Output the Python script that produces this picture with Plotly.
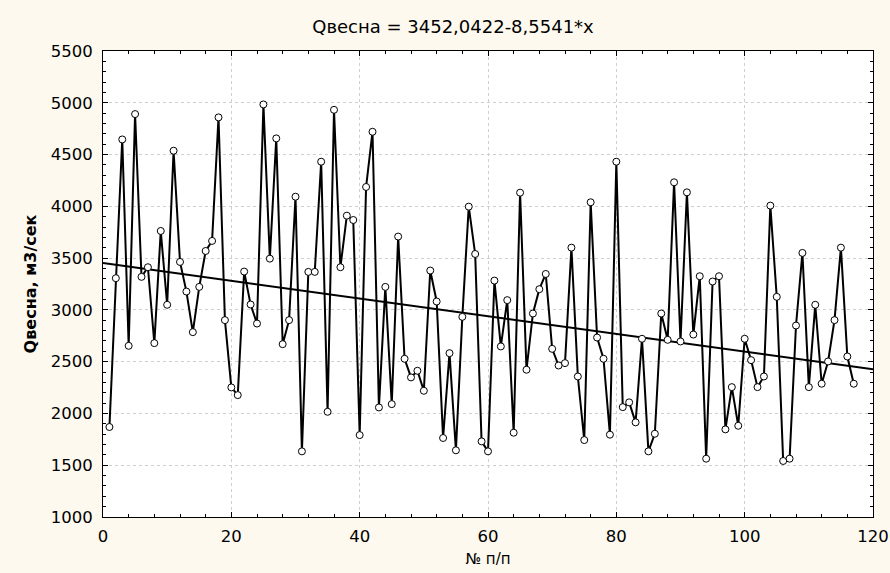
import plotly.graph_objects as go

# Data: spring discharge by sequence number
x_idx = list(range(1, 118))
q_spring = [
    1869, 3306, 4646, 2653, 4891, 3319, 3412, 2679, 3762, 3049,
    4537, 3463, 3177, 2785, 3222, 3569, 3666, 4859, 2901, 2251,
    2177, 3370, 3052, 2868, 4984, 3495, 4656, 2669, 2901, 4093,
    1634, 3367, 3367, 4431, 2016, 4932, 3412, 3910, 3868, 1791,
    4187, 4720, 2058, 3222, 2090, 3708, 2528, 2348, 2412, 2219,
    3380, 3081, 1763, 2582, 1644, 2933, 3997, 3540, 1730, 1634,
    3283, 2647, 3094, 1814, 4132, 2422, 2965, 3200, 3347, 2624,
    2463, 2486, 3601, 2357, 1743, 4039, 2733, 2528, 1795, 4431,
    2061, 2107, 1914, 2721, 1634, 1804, 2965, 2711, 4232, 2695,
    4135, 2762, 3325, 1563, 3274, 3325, 1846, 2254, 1881, 2721,
    2515, 2254, 2357, 4007, 3126, 1541, 1563, 2849, 3550, 2254,
    3049, 2287, 2502, 2901, 3601, 2550, 2287,
]

# Regression coefficients from the title
intercept = 3452.0422
slope = -8.5541
trend_x = [0, 120]
trend_y = [intercept + slope * v for v in trend_x]

title_text = "Qвесна = 3452,0422-8,5541*x"
x_title = "№ п/п"
y_title = "Qвесна, м3/сек"

FONT = "DejaVu Sans"
BG = "#FEF9EE"

fig = go.Figure()
fig.add_trace(go.Scatter(
    x=trend_x, y=trend_y, mode="lines",
    line=dict(color="black", width=2), hoverinfo="skip", showlegend=False,
))
fig.add_trace(go.Scatter(
    x=x_idx, y=q_spring, mode="lines+markers",
    line=dict(color="black", width=2),
    marker=dict(symbol="circle", size=7, color="white",
                line=dict(color="black", width=1)),
    showlegend=False,
))

axis_common = dict(
    showline=True, linecolor="black", linewidth=1, mirror="allticks",
    ticks="inside", ticklen=5, tickcolor="black", tickwidth=1,
    showgrid=True, gridcolor="#cfcfcf", griddash="dot", gridwidth=1,
    zeroline=False, automargin=False,
    tickfont=dict(family=FONT, size=16.5, color="black"),
)

fig.update_xaxes(
    range=[0, 120], dtick=20, tick0=0,
    minor=dict(dtick=4, ticks="inside", ticklen=3, tickcolor="black", showgrid=False),
    title=dict(text=x_title, font=dict(family=FONT, size=15, color="black"), standoff=8),
    ticklabelstandoff=4,
    **axis_common,
)
fig.update_yaxes(
    range=[1000, 5500], dtick=500, tick0=1000,
    minor=dict(dtick=100, ticks="inside", ticklen=3, tickcolor="black", showgrid=False),
    title=dict(text="<b>" + y_title + "</b>", font=dict(family=FONT, size=16, color="black"), standoff=10),
    ticklabelstandoff=6,
    **axis_common,
)

fig.update_layout(
    width=890, height=573,
    margin=dict(l=103, r=17, t=51, b=56, pad=0),
    paper_bgcolor=BG, plot_bgcolor="white",
    title=dict(text=title_text, x=453 / 890, xanchor="center", xref="container",
               y=1 - 27 / 573, yanchor="middle", yref="container",
               font=dict(family=FONT, size=18, color="black")),
    font=dict(family=FONT, color="black"),
)

fig.write_html(
    "out.html",
    config={"displayModeBar": False},
    post_script="document.body.style.margin='0';document.body.style.background='#FEF9EE';",
)
